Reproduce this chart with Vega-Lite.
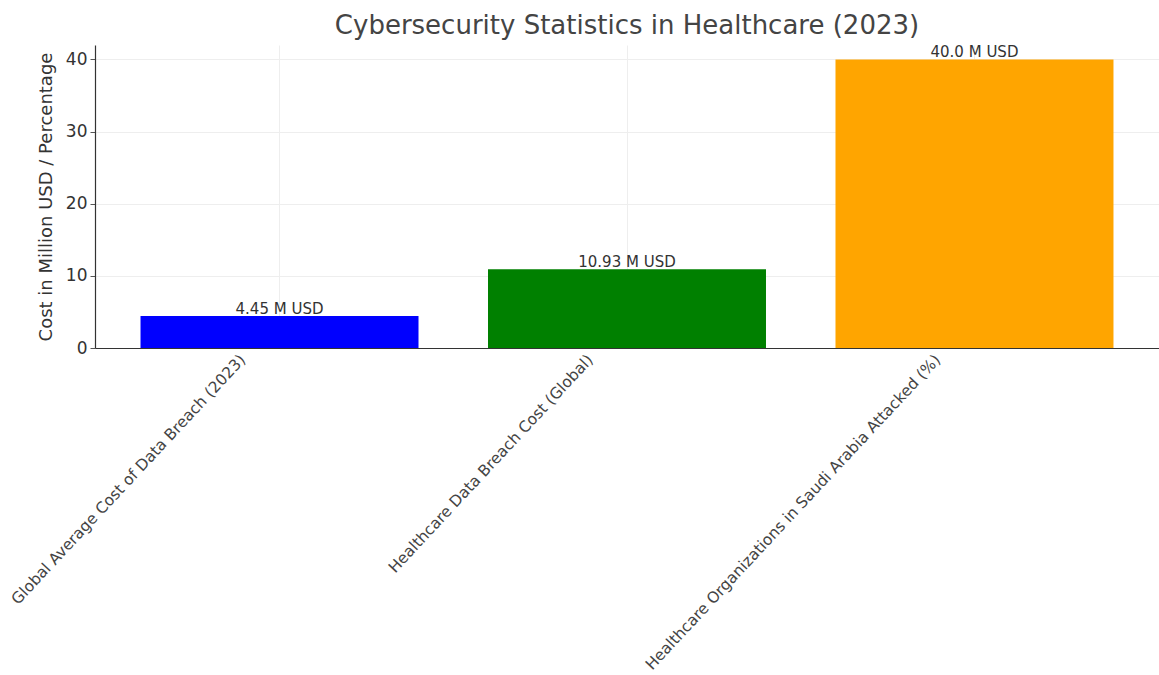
{
  "$schema": "https://vega.github.io/schema/vega-lite/v6.json",
  "width": 1064,
  "height": 303,
  "autosize": "none",
  "padding": {"left": 95, "top": 45, "right": 0, "bottom": 327},
  "background": "white",
  "title": {
    "text": "Cybersecurity Statistics in Healthcare (2023)",
    "font": "DejaVu Sans",
    "fontSize": 26,
    "fontWeight": "normal",
    "color": "#444444",
    "anchor": "middle",
    "offset": 6
  },
  "data": {
    "values": [
      {"category": "Global Average Cost of Data Breach (2023)", "value": 4.45, "label": "4.45 M USD", "color": "#0000ff"},
      {"category": "Healthcare Data Breach Cost (Global)", "value": 10.93, "label": "10.93 M USD", "color": "#008000"},
      {"category": "Healthcare Organizations in Saudi Arabia Attacked (%)", "value": 40.0, "label": "40.0 M USD", "color": "#ffa500"}
    ]
  },
  "config": {
    "view": {"stroke": null},
    "font": "DejaVu Sans"
  },
  "encoding": {
    "x": {
      "field": "category",
      "type": "nominal",
      "sort": null,
      "scale": {"paddingInner": 0.2, "paddingOuter": 0.131},
      "axis": {
        "title": null,
        "labelAngle": -47,
        "labelAlign": "right",
        "labelBaseline": "top",
        "labelFont": "DejaVu Sans",
        "labelFontSize": 15.5,
        "labelColor": "#444444",
        "labelOffset": -42,
        "labelPadding": 4,
        "labelLimit": 600,
        "bandPosition": 0.5,
        "grid": true,
        "gridColor": "#eeeeee",
        "gridWidth": 1,
        "ticks": false,
        "domainColor": "#333333",
        "domainWidth": 1.2
      }
    },
    "y": {
      "field": "value",
      "type": "quantitative",
      "scale": {"domain": [0, 42], "nice": false},
      "axis": {
        "title": "Cost in Million USD / Percentage",
        "titleFont": "DejaVu Sans",
        "titleFontSize": 18,
        "titleFontWeight": "normal",
        "titleColor": "#333333",
        "titlePadding": 10,
        "values": [0, 10, 20, 30, 40],
        "labelFont": "DejaVu Sans",
        "labelFontSize": 17,
        "labelColor": "#333333",
        "labelPadding": 3,
        "tickSize": 5,
        "tickColor": "#555555",
        "grid": true,
        "gridColor": "#eeeeee",
        "gridWidth": 1,
        "domainColor": "#333333",
        "domainWidth": 1.2
      }
    }
  },
  "layer": [
    {
      "mark": {"type": "bar"},
      "encoding": {
        "color": {"field": "color", "type": "nominal", "scale": null}
      }
    },
    {
      "mark": {"type": "text", "baseline": "bottom", "dy": 1, "font": "DejaVu Sans", "fontSize": 15, "color": "#333333"},
      "encoding": {
        "text": {"field": "label", "type": "nominal"}
      }
    }
  ]
}
